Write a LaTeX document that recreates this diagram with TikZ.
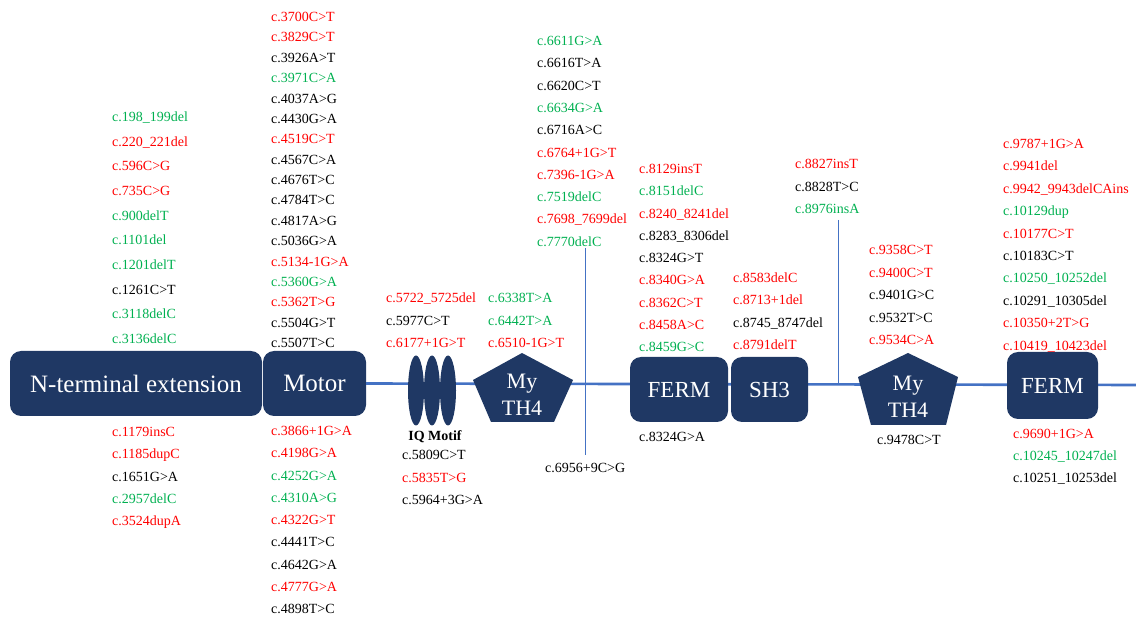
\documentclass[tikz,border=0pt]{standalone}
\usepackage{fontspec}
\setmainfont{Liberation Serif}
\usetikzlibrary{shapes.geometric}
\definecolor{navy}{RGB}{31,56,100}
\definecolor{rd}{RGB}{255,0,0}
\definecolor{gn}{RGB}{0,176,80}
\definecolor{kk}{RGB}{0,0,0}
\definecolor{bb}{RGB}{68,114,196}
% one column of variant labels: name, x, first y, row step, list of colour/text
\newcommand\mutcol[5]{%
  \foreach [count=\i from 0] \c/\t in {#5}
    \node[lab,text=\c] (#1-\i) at (#2,#3+\i*#4+4.6) {\t};}
\begin{document}
\begin{tikzpicture}[x=1pt,y=-1pt,
  lab/.style={anchor=base west,inner sep=0pt,font=\fontsize{14}{16}\selectfont},
  dom/.style={fill=navy,draw=none,rounded corners=11pt,text=white,inner sep=0pt,
              font=\fontsize{25}{28}\selectfont},
  iq/.style={ellipse,fill=navy,draw=none,inner sep=0pt,minimum width=16pt,minimum height=70pt},
  pent/.style={fill=navy,draw=none},
  penttxt/.style={text=white,inner sep=0pt,font=\fontsize{22}{24}\selectfont},
  backbone/.style={draw=bb,line width=2.6pt},
  tick/.style={draw=bb,line width=0.9pt}]
\useasboundingbox (0,0) rectangle (1136,617);

% backbone
\coordinate (endR) at (1136,385);
\coordinate (tickA) at (585,248);
\coordinate (tickB) at (585,455);
\coordinate (tickC) at (838,220);
\coordinate (tickD) at (838,385);

% domains
\node[dom,minimum width=252pt,minimum height=65pt] (nterm) at (136,383.5) {N-terminal extension};
\node[dom,minimum width=103pt,minimum height=65pt] (motor) at (314.5,383.5) {Motor};
\path[backbone] (motor.east) -- (endR);
\path[tick] (tickA) -- (tickB);
\path[tick] (tickC) -- (tickD);
\node[dom,minimum width=98pt,minimum height=65pt,font=\fontsize{23}{26}\selectfont] (ferm1) at (679,389.5) {FERM};
\node[dom,minimum width=77pt,minimum height=65pt,font=\fontsize{23}{26}\selectfont] (sh3) at (769.5,389.5) {SH3};
\node[dom,minimum width=91pt,minimum height=67pt,font=\fontsize{23}{26}\selectfont] (ferm2) at (1052.5,385.5) {FERM};

% IQ motifs
\node[iq] (iq1) at (416,390.5) {};
\node[iq] (iq2) at (432,390.5) {};
\node[iq] (iq3) at (448,390.5) {};
\node[anchor=center,inner sep=0pt,font=\bfseries\fontsize{14}{16}\selectfont] (iqlab) at (435,437) {IQ Motif};

% MyTH4 domains
\fill[pent] (522,353) -- (573,380) -- (554,422) -- (491,422) -- (473,380) -- cycle;
\node[penttxt] (my1a) at (522,384) {My};
\node[penttxt] (my1b) at (522,408) {TH4};
\fill[pent] (908,353) -- (958,377) -- (946,425) -- (871,425) -- (858,377) -- cycle;
\node[penttxt] (my2a) at (908,386) {My};
\node[penttxt] (my2b) at (908,410) {TH4};

% variant labels
\mutcol{na}{112}{117}{24.67}{gn/{c.198\_199del},rd/{c.220\_221del},rd/{c.596C>G},rd/{c.735C>G},gn/{c.900delT},gn/{c.1101del},gn/{c.1201delT},kk/{c.1261C>T},gn/{c.3118delC},gn/{c.3136delC}}
\mutcol{nb}{112}{432}{22.25}{rd/{c.1179insC},rd/{c.1185dupC},kk/{c.1651G>A},gn/{c.2957delC},rd/{c.3524dupA}}
\mutcol{ma}{271}{17}{20.375}{rd/{c.3700C>T},rd/{c.3829C>T},kk/{c.3926A>T},gn/{c.3971C>A},kk/{c.4037A>G},kk/{c.4430G>A},rd/{c.4519C>T},kk/{c.4567C>A},kk/{c.4676T>C},kk/{c.4784T>C},kk/{c.4817A>G},kk/{c.5036G>A},rd/{c.5134-1G>A},gn/{c.5360G>A},rd/{c.5362T>G},kk/{c.5504G>T},kk/{c.5507T>C}}
\mutcol{mb}{271}{431}{22.25}{rd/{c.3866+1G>A},rd/{c.4198G>A},gn/{c.4252G>A},gn/{c.4310A>G},rd/{c.4322G>T},kk/{c.4441T>C},kk/{c.4642G>A},rd/{c.4777G>A},kk/{c.4898T>C}}
\mutcol{qa}{386}{298}{22.5}{rd/{c.5722\_5725del},kk/{c.5977C>T},rd/{c.6177+1G>T}}
\mutcol{qb}{402}{455}{22.5}{kk/{c.5809C>T},rd/{c.5835T>G},kk/{c.5964+3G>A}}
\mutcol{ta}{488}{298}{22.5}{gn/{c.6338T>A},gn/{c.6442T>A},rd/{c.6510-1G>T}}
\mutcol{tb}{537}{41}{22.3}{gn/{c.6611G>A},kk/{c.6616T>A},kk/{c.6620C>T},gn/{c.6634G>A},kk/{c.6716A>C},rd/{c.6764+1G>T},rd/{c.7396-1G>A},gn/{c.7519delC},rd/{c.7698\_7699del},gn/{c.7770delC}}
\mutcol{tc}{545}{468}{22}{kk/{c.6956+9C>G}}
\mutcol{fa}{639}{169}{22.25}{rd/{c.8129insT},gn/{c.8151delC},rd/{c.8240\_8241del},kk/{c.8283\_8306del},kk/{c.8324G>T},rd/{c.8340G>A},rd/{c.8362C>T},rd/{c.8458A>C},gn/{c.8459G>C}}
\mutcol{fb}{639}{437}{22}{kk/{c.8324G>A}}
\mutcol{sa}{733}{278}{22.3}{rd/{c.8583delC},rd/{c.8713+1del},kk/{c.8745\_8747del},rd/{c.8791delT}}
\mutcol{sb}{795}{164}{22.5}{rd/{c.8827insT},kk/{c.8828T>C},gn/{c.8976insA}}
\mutcol{ua}{869}{250}{22.5}{rd/{c.9358C>T},rd/{c.9400C>T},kk/{c.9401G>C},kk/{c.9532T>C},rd/{c.9534C>A}}
\mutcol{ub}{877}{440}{22}{kk/{c.9478C>T}}
\mutcol{ga}{1003}{144}{22.4}{rd/{c.9787+1G>A},rd/{c.9941del},rd/{c.9942\_9943delCAins},gn/{c.10129dup},rd/{c.10177C>T},kk/{c.10183C>T},gn/{c.10250\_10252del},kk/{c.10291\_10305del},rd/{c.10350+2T>G},rd/{c.10419\_10423del}}
\mutcol{gb}{1013}{434}{22}{rd/{c.9690+1G>A},gn/{c.10245\_10247del},kk/{c.10251\_10253del}}
\end{tikzpicture}
\end{document}
